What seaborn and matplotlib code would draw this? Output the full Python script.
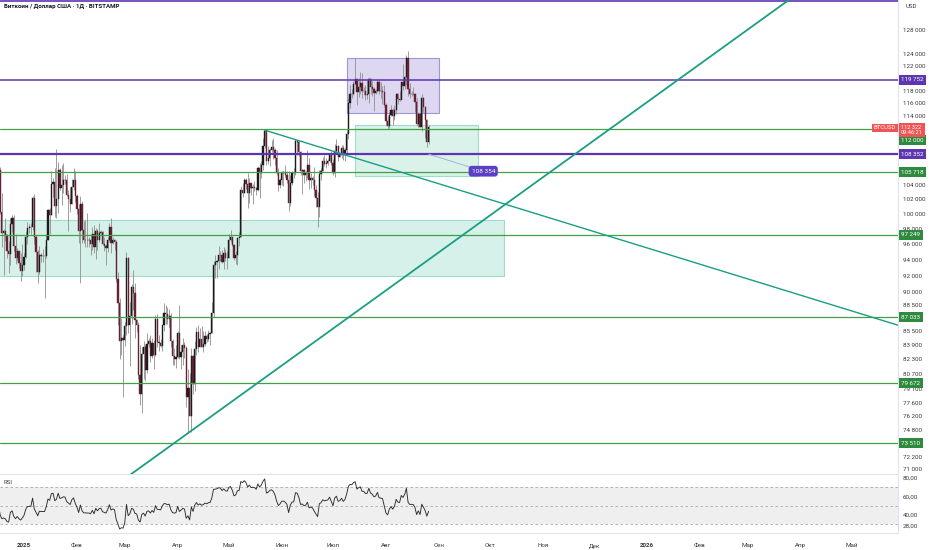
import numpy as np
import pandas as pd
import seaborn as sns
import matplotlib
matplotlib.use("Agg")
import matplotlib.pyplot as plt
import matplotlib.dates as mdates
from matplotlib.ticker import FixedLocator, FixedFormatter, NullLocator, NullFormatter

# daily BTC/USD candles, thousands of USD, 2024-12-01 .. 2025-08-26
START = "2024-12-01"
first_open = 96.4
closes = [
    97.3, 95.9, 96.0, 98.8, 97.0, 99.9, 99.9, 101.2, 97.4, 96.7, 101.2, 100.0, 101.4, 101.4, 104.3, 106.1,
    106.1, 100.2, 97.5, 97.8, 97.2, 95.2, 94.8, 98.7, 99.4, 95.8, 94.2, 95.1, 93.6, 92.6, 93.4,
    # jan
    94.4, 96.9, 98.1, 98.2, 98.3, 102.1, 96.9, 95.0, 92.5, 94.7, 94.5, 94.5, 94.5, 96.5, 100.5, 99.9,
    104.1, 104.4, 101.1, 102.0, 106.1, 103.6, 104.0, 104.7, 104.6, 102.6, 102.0, 101.3, 103.7, 104.7, 102.4,
    # feb
    100.6, 97.7, 101.4, 97.9, 96.6, 96.6, 96.5, 96.5, 96.1, 97.4, 95.7, 97.8, 96.6, 97.5, 97.6, 96.1,
    95.8, 95.5, 96.6, 98.3, 96.2, 96.6, 96.3, 91.6, 88.7, 84.3, 84.7, 84.4,
    # mar
    86.0, 94.3, 86.1, 87.2, 90.6, 89.9, 86.7, 86.2, 80.6, 78.5, 82.9, 83.7, 81.1, 84.0, 84.3, 82.6,
    84.1, 82.7, 86.8, 84.2, 84.1, 83.8, 86.1, 87.5, 87.4, 86.9, 87.2, 84.3, 82.6, 82.3, 82.5,
    # apr
    85.2, 82.5, 83.1, 83.9, 83.5, 78.2, 79.2, 76.3, 82.6, 79.6, 83.4, 85.3, 83.7, 84.5, 83.7, 84.0,
    84.9, 84.5, 85.1, 85.2, 87.5, 93.4, 93.7, 93.9, 94.7, 94.6, 93.8, 94.9, 94.3, 94.2,
    # may
    96.5, 96.9, 95.9, 94.3, 94.7, 96.8, 97.0, 103.2, 102.9, 104.6, 104.1, 102.8, 104.2, 103.5, 103.7, 103.6,
    103.2, 106.4, 105.6, 106.8, 109.6, 111.7, 107.3, 107.8, 109.0, 109.4, 108.9, 107.8, 105.6, 103.9, 104.6,
    # jun
    105.7, 105.8, 105.4, 104.7, 101.5, 104.3, 105.6, 105.7, 110.3, 110.2, 108.7, 105.9, 106.1, 105.4, 105.6,
    106.8, 104.6, 104.9, 104.6, 103.3, 102.1, 100.9, 105.5, 106.0, 107.3, 106.9, 107.1, 107.3, 108.4, 107.1,
    # jul
    105.7, 108.8, 109.6, 107.9, 108.2, 109.2, 108.2, 108.9, 111.3, 116.0, 117.5, 117.4, 119.1, 119.8, 117.7, 118.6,
    119.2, 117.9, 117.9, 117.3, 117.4, 119.9, 118.6, 118.3, 117.6, 117.9, 119.4, 118.0, 117.9, 117.8, 115.8,
    # aug
    113.3, 112.5, 114.2, 115.0, 114.1, 115.0, 117.5, 116.6, 116.5, 119.3, 118.7, 120.1, 123.3, 118.3, 117.4,
    117.5, 117.4, 116.2, 112.9, 114.3, 112.4, 116.9, 115.4, 113.5, 110.1, 112.3,
]
highs = [
    98.0, 98.2, 96.3, 99.0, 104.0, 101.9, 100.5, 101.4, 101.2, 98.2, 101.9, 102.5, 102.6, 102.6, 105.1, 107.8,
    108.3, 106.5, 102.8, 98.0, 99.5, 97.4, 96.4, 99.4, 99.9, 99.9, 97.3, 95.5, 95.2, 94.9, 96.1,
    94.9, 97.8, 98.9, 98.7, 98.8, 102.5, 102.7, 97.2, 95.3, 95.8, 94.9, 95.4, 95.8, 97.4, 100.7, 100.8,
    105.9, 104.9, 106.3, 109.1, 107.2, 106.3, 106.8, 107.1, 105.3, 105.5, 103.2, 103.7, 104.8, 106.4, 106.0,
    102.7, 101.4, 102.5, 101.7, 99.0, 99.2, 100.1, 96.9, 97.3, 98.3, 98.5, 98.1, 98.0, 98.8, 97.9, 97.7,
    97.0, 96.0, 96.9, 98.8, 99.5, 96.9, 96.7, 96.5, 92.5, 89.3, 87.0, 85.0,
    86.5, 95.0, 94.4, 88.9, 91.0, 92.8, 91.2, 86.8, 86.5, 83.9, 83.6, 84.3, 84.0, 85.2, 84.7, 85.0,
    84.7, 84.4, 87.3, 87.4, 85.0, 84.5, 86.2, 88.7, 88.5, 88.3, 88.0, 87.5, 84.6, 83.5, 83.9,
    85.5, 88.5, 83.9, 84.7, 84.2, 83.8, 81.2, 80.8, 83.5, 82.7, 84.3, 85.9, 86.1, 85.8, 86.0, 85.5,
    85.5, 85.1, 85.6, 85.3, 88.8, 93.9, 94.7, 94.0, 95.8, 95.1, 95.3, 95.6, 95.4, 95.2,
    97.4, 97.9, 96.9, 96.0, 95.2, 97.0, 97.6, 103.8, 104.2, 104.9, 104.9, 105.7, 104.9, 104.3, 104.1, 104.5,
    103.7, 106.6, 107.1, 107.3, 110.7, 111.9, 111.8, 109.5, 109.3, 110.4, 110.7, 109.3, 108.9, 106.3, 104.9,
    105.9, 105.9, 106.8, 106.0, 105.9, 105.4, 105.9, 106.4, 110.6, 110.4, 110.4, 108.8, 106.2, 106.2, 106.0,
    108.9, 107.8, 105.6, 105.2, 106.5, 103.9, 103.0, 106.1, 106.3, 108.0, 108.3, 107.8, 107.6, 108.5, 108.8,
    107.6, 109.8, 110.6, 109.7, 108.5, 109.7, 109.7, 109.2, 111.9, 116.8, 118.9, 118.2, 119.5, 123.2, 119.9, 120.0,
    120.9, 120.8, 118.5, 118.9, 119.7, 120.2, 120.0, 119.5, 118.5, 118.3, 119.8, 119.8, 119.3, 118.8, 118.9,
    116.1, 114.0, 114.7, 115.7, 115.2, 115.7, 117.6, 117.6, 117.9, 119.4, 122.3, 120.3, 123.7, 124.5, 119.2,
    117.9, 118.6, 117.6, 116.8, 114.6, 114.4, 117.4, 117.0, 115.6, 113.6, 112.6,
]
lows = [
    95.7, 94.5, 93.6, 94.7, 91.0, 96.5, 99.0, 98.7, 94.3, 94.3, 95.8, 99.4, 99.3, 100.8, 101.3, 103.4,
    105.3, 100.0, 95.7, 92.1, 96.4, 94.2, 92.4, 93.4, 97.6, 95.2, 93.5, 94.0, 93.0, 91.4, 92.0,
    92.8, 94.2, 96.0, 97.5, 97.3, 97.9, 96.1, 92.5, 91.2, 92.2, 93.8, 93.7, 89.3, 94.3, 96.5, 97.3,
    99.9, 102.3, 99.6, 99.5, 100.1, 103.3, 101.2, 102.8, 104.1, 102.5, 97.8, 100.3, 101.3, 103.3, 101.6,
    100.0, 96.2, 91.2, 96.2, 96.2, 95.7, 95.7, 95.7, 94.7, 95.3, 94.9, 94.1, 95.3, 96.3, 97.2, 95.9,
    95.2, 93.4, 95.0, 96.4, 94.9, 96.1, 95.3, 91.3, 86.1, 82.3, 82.8, 78.2,
    83.8, 85.0, 85.2, 81.5, 86.3, 87.9, 84.7, 85.3, 80.1, 77.4, 76.6, 80.1, 79.9, 80.8, 83.7, 82.0,
    82.4, 81.2, 82.6, 83.7, 83.2, 83.6, 83.2, 85.5, 86.3, 86.3, 85.9, 83.6, 81.6, 81.6, 81.3,
    82.4, 82.3, 81.2, 81.7, 82.4, 77.2, 74.5, 76.2, 74.6, 78.5, 78.9, 82.8, 83.1, 83.7, 83.6, 83.1,
    83.8, 84.2, 84.3, 83.9, 85.2, 87.1, 91.8, 91.7, 92.9, 93.9, 93.6, 92.9, 93.9, 92.9,
    94.2, 96.3, 95.8, 94.0, 93.5, 93.4, 95.8, 96.9, 102.3, 102.8, 103.4, 100.8, 101.5, 102.6, 101.4, 103.1,
    102.6, 103.1, 102.1, 104.9, 106.1, 109.3, 106.8, 106.9, 106.7, 108.7, 107.6, 106.8, 105.4, 103.1, 103.6,
    103.9, 103.8, 105.1, 104.2, 100.4, 101.1, 104.0, 104.9, 105.3, 108.3, 108.1, 105.4, 102.7, 104.3, 104.5,
    105.0, 103.4, 103.5, 103.9, 102.4, 100.9, 98.2, 99.6, 104.6, 105.9, 106.6, 106.4, 106.8, 107.2, 106.8,
    105.3, 105.1, 108.6, 107.3, 107.9, 107.8, 107.5, 107.4, 108.4, 110.6, 115.2, 116.9, 117.3, 118.9, 115.8, 117.0,
    117.5, 116.9, 117.3, 116.5, 116.6, 116.1, 117.4, 117.2, 114.8, 117.5, 117.8, 117.4, 116.9, 115.9, 115.6,
    112.7, 112.0, 112.2, 114.1, 112.7, 113.4, 114.3, 115.9, 116.3, 116.6, 118.1, 118.2, 118.9, 117.2, 116.8,
    117.2, 117.3, 114.7, 112.7, 112.4, 112.3, 111.7, 114.6, 110.7, 109.4, 109.8,
]

# drawn levels (USD)
green_levels = [112000, 105718, 97249, 87033, 79672, 73510]
purple_levels = [119752, 108352]
top_level = 133000
last_price = 112322
note_price = 108354

price_ticks = [128000, 124000, 122000, 118000, 116000, 114000, 104000, 102000, 100000, 98000, 96000,
               94000, 92000, 90000, 88500, 85500, 83900, 82300, 80700, 79100, 77600, 76200, 74800,
               72200, 71000]
rsi_ticks = [80, 60, 40, 28]
rsi_tick_labels = ["80,00", "60,00", "40,00", "28,00"]

month_starts = pd.date_range("2025-01-01", "2026-05-01", freq="MS")
month_labels = ["2025", "Фев", "Мар", "Апр", "Май", "Июн", "Июл", "Авг", "Сен", "Окт", "Ноя", "Дек",
                "2026", "Фев", "Мар", "Апр", "Май"]

UP, DOWN, WICK = "#1b1b1b", "#652233", "#8f8f8f"
GREEN, PURPLE, TEAL, RED = "#43a047", "#5e35b1", "#1a9e84", "#f05454"


def wilder_rsi(values, n=14):
    s = pd.Series(values)
    d = s.diff()
    up = d.clip(lower=0).ewm(alpha=1 / n, adjust=False).mean()
    dn = (-d.clip(upper=0)).ewm(alpha=1 / n, adjust=False).mean()
    return (100 - 100 / (1 + up / dn)).to_numpy()


def dnum(s):
    return mdates.date2num(pd.Timestamp(s))


def box(ax, d0, d1, lo, hi, fc, ec):
    ax.fill_between([dnum(d0), dnum(d1)], lo, hi, facecolor=fc, edgecolor=ec, linewidth=0.8, zorder=1)


def side_label(ax, price, text, color, dy=0):
    ax.annotate(text, xy=(1, price), xycoords=ax.get_yaxis_transform(), xytext=(2.2, dy),
                textcoords="offset points", ha="left", va="center", fontsize=4.5, color="white",
                bbox=dict(boxstyle="square,pad=0.4", fc=color, ec="none"), annotation_clip=False, zorder=10)


def main():
    sns.set_theme(style="white")
    plt.rcParams["font.family"] = ["Roboto", "DejaVu Sans"]

    c = np.array(closes) * 1000
    h = np.array(highs) * 1000
    l = np.array(lows) * 1000
    o = np.concatenate([[first_open * 1000], c[:-1]])
    dates = pd.date_range(START, periods=len(c), freq="D")
    x = mdates.date2num(dates)
    rsi = wilder_rsi(c)

    W, H = 932, 550
    fig = plt.figure(figsize=(W / 100, H / 100), dpi=100)
    ax = fig.add_axes([0, 1 - 474 / H, 898 / W, 474 / H])
    ax_rsi = fig.add_axes([0, 1 - 533 / H, 898 / W, 57 / H], sharex=ax)

    ax.set_yscale("log")

    # zones
    box(ax, "2024-12-01", "2025-10-09", 92000, 99200, "#d6f1e9", "#9fdcc9")
    box(ax, "2025-07-09", "2025-09-01", 114500, 123300, "#ddd7f2", "#a395db")
    box(ax, "2025-07-14", "2025-09-24", 105200, 112700, "#dbf2eb", "#9fdcc9")

    # candles
    up = c >= o
    ax.vlines(x, l, h, colors=WICK, linewidth=0.6, zorder=3)
    ax.bar(x, np.abs(c - o), bottom=np.minimum(o, c), width=0.72,
           color=np.where(up, UP, DOWN), edgecolor=np.where(up, UP, DOWN), linewidth=0.3, zorder=4)

    # horizontal levels
    for p in green_levels:
        ax.axhline(p, color=GREEN, lw=0.9, zorder=5)
    ax.axhline(purple_levels[0], color=PURPLE, lw=1.1, zorder=5)
    ax.axhline(purple_levels[1], color=PURPLE, lw=1.6, zorder=5)
    ax.axhline(top_level, color=PURPLE, lw=1.2, zorder=5)

    # trend lines
    ax.plot([dnum("2025-03-04"), dnum("2026-03-25")], [70440, 133252], color=TEAL, lw=1.3, zorder=6)
    ax.plot([dnum("2025-05-22"), dnum("2026-05-28")], [111900, 86130], color=TEAL, lw=1.0, zorder=6)

    # price note
    ax.annotate("108 354", xy=(dnum("2025-08-26"), 108352), xytext=(dnum("2025-09-27"), 105900),
                ha="center", va="center", fontsize=4.6, color="white", zorder=9,
                bbox=dict(boxstyle="round,pad=0.45", fc="#5b3fc4", ec="none"),
                arrowprops=dict(arrowstyle="-", color="#9fb4d8", lw=0.7, shrinkA=0, shrinkB=0))

    ax.set_ylim(70540, 133252)
    ax.set_xlim(dnum("2024-12-17 22:00"), dnum("2026-05-28"))

    ax.yaxis.tick_right()
    ax.yaxis.set_major_locator(FixedLocator(price_ticks))
    ax.yaxis.set_major_formatter(FixedFormatter([f"{v:,}".replace(",", " ") for v in price_ticks]))
    ax.yaxis.set_minor_locator(NullLocator())
    ax.yaxis.set_minor_formatter(NullFormatter())
    ax.tick_params(axis="y", length=0, pad=3.5, labelsize=4.5, labelcolor="#3a3a3a")
    ax.tick_params(axis="x", length=0, labelbottom=False)

    # axis labels on the price scale
    side_label(ax, purple_levels[0], "119 752", PURPLE)
    side_label(ax, purple_levels[1], "108 352", PURPLE)
    for p in green_levels[1:]:
        side_label(ax, p, f"{p:,}".replace(",", " "), "#2e8b3e")
    side_label(ax, green_levels[0], "112 000", "#2e8b3e", dy=-7.6)
    ax.annotate("112 322\n09:46:21", xy=(1, last_price), xycoords=ax.get_yaxis_transform(),
                xytext=(2.2, -1.9), textcoords="offset points", ha="left", va="center",
                fontsize=4.1, linespacing=1.0, color="white", annotation_clip=False, zorder=11,
                bbox=dict(boxstyle="square,pad=0.35", fc=RED, ec="none"))
    ax.annotate("BTCUSD", xy=(1, last_price), xycoords=ax.get_yaxis_transform(),
                xytext=(-1.5, -0.3), textcoords="offset points", ha="right", va="center",
                fontsize=4.2, color="white", annotation_clip=False, zorder=11,
                bbox=dict(boxstyle="square,pad=0.3", fc=RED, ec="none"))

    # RSI panel
    ax_rsi.axhspan(30, 70, color="#efefef", zorder=0, lw=0)
    for lvl in (70, 50, 30):
        ax_rsi.axhline(lvl, color="#a9a9a9", lw=0.6, ls=(0, (3, 3)), zorder=1)
    sns.lineplot(x=x, y=rsi, ax=ax_rsi, color="#2b2b2b", lw=0.65, zorder=3)
    ax_rsi.set_ylim(20.3, 81.9)
    ax_rsi.yaxis.tick_right()
    ax_rsi.set_yticks(rsi_ticks)
    ax_rsi.set_yticklabels(rsi_tick_labels)
    ax_rsi.tick_params(axis="y", length=0, pad=3.5, labelsize=4.5, labelcolor="#3a3a3a")
    ax_rsi.set_xticks(mdates.date2num(month_starts))
    ax_rsi.set_xticklabels(month_labels)
    ax_rsi.tick_params(axis="x", length=0, pad=7, labelsize=4.5, labelcolor="#3a3a3a")
    for t in ax_rsi.get_xticklabels():
        if t.get_text() in ("2025", "2026"):
            t.set_fontweight("bold")
    ax_rsi.set_xlabel("")
    ax_rsi.set_ylabel("")
    ax.set_ylabel("")

    for a in (ax, ax_rsi):
        a.set_facecolor("white")
        for side in ("top", "left"):
            a.spines[side].set_visible(False)
        for side in ("right", "bottom"):
            a.spines[side].set_color("#e0e3eb")
            a.spines[side].set_linewidth(0.8)
        a.grid(False)

    fig.text(4 / W, 1 - 6 / H, "Биткоин / Доллар США · 1Д · BITSTAMP", fontsize=4.4,
             fontweight="bold", va="center", ha="left", color="#131722")
    fig.text(906 / W, 1 - 7 / H, "USD", fontsize=4.4, va="center", ha="left", color="#3a3a3a")
    fig.text(4 / W, 1 - 482 / H, "RSI", fontsize=4.3, va="center", ha="left", color="#3a3a3a")

    fig.savefig("out.png", dpi=100)
    plt.close(fig)


if __name__ == "__main__":
    main()
